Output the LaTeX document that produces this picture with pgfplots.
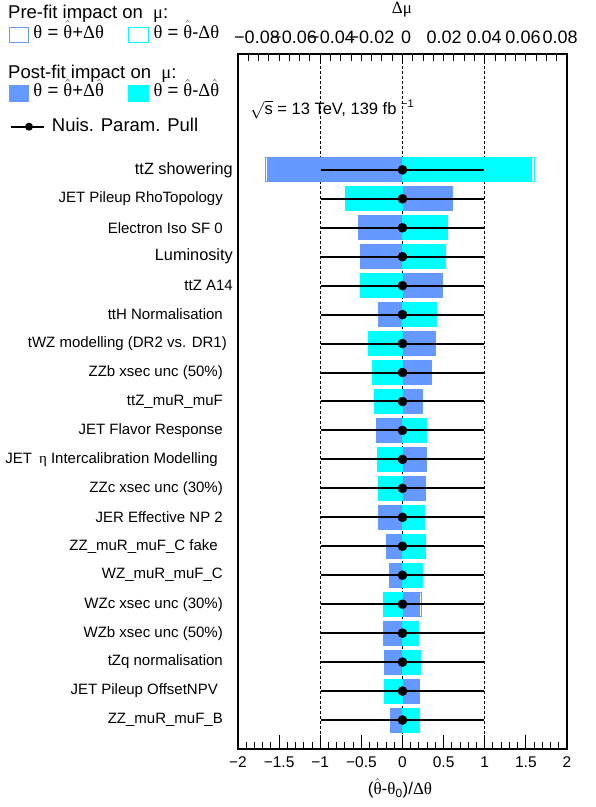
\documentclass[border=0pt]{standalone}
\usepackage{fontspec}
\setmainfont{Liberation Sans}
\newfontfamily\grk{Liberation Serif}
\usepackage{pgfplots}
\pgfplotsset{compat=1.18}
\usepackage{pgfplotstable}
\definecolor{upblue}{HTML}{6699FF}
\definecolor{dncyan}{HTML}{00FFFF}
\newcommand\fs[1]{\fontsize{#1bp}{#1bp}\selectfont}
\newcommand\gT{{\grk θ}}
\newcommand\gTh{$\hat{\mbox{\grk θ}}$}
\newcommand\gD{{\grk Δ}}
\newcommand\gM{{\grk μ}}

% y  postUp(blue)  postDown(cyan)  preUp  preDown
\pgfplotstableread{
y   postup  postdn  preup   predn
20  -1.640  1.567   -1.670  1.610
19   0.602 -0.687    0.602 -0.687
18  -0.541  0.529   -0.541  0.550
17  -0.505  0.505   -0.505  0.525
16   0.480 -0.505    0.480 -0.505
15  -0.286  0.408   -0.286  0.408
14   0.395 -0.408    0.395 -0.408
13   0.347 -0.359    0.347 -0.359
12   0.225 -0.335    0.249 -0.335
11  -0.322  0.286   -0.322  0.286
10   0.286 -0.298    0.286 -0.298
9    0.274 -0.286    0.274 -0.286
8   -0.286  0.262   -0.286  0.262
7   -0.189  0.274   -0.189  0.274
6   -0.164  0.237   -0.164  0.237
5    0.200 -0.237    0.225 -0.237
4   -0.225  0.189   -0.225  0.189
3   -0.213  0.213   -0.213  0.213
2    0.200 -0.213    0.200 -0.213
1   -0.140  0.200   -0.140  0.200
}\impacts

\pgfplotstableread{
y  pull  perr
20 0 0.995
19 0 0.995
18 0 0.995
17 0 0.995
16 0 0.995
15 0 0.995
14 0 0.995
13 0 0.995
12 0 0.995
11 0 0.995
10 0 0.995
9  0 0.995
8  0 0.995
7  0 0.995
6  0 0.995
5  0 0.995
4  0 0.995
3  0 0.995
2  0 0.995
1  0 0.995
}\pulls

\begin{document}
\begin{tikzpicture}[x=1bp,y=1bp]
\useasboundingbox (0,0) rectangle (596,807);
\begin{axis}[
  at={(238bp,58bp)}, anchor=south west,
  scale only axis, width=329bp, height=695bp,
  xmin=-2, xmax=2, ymin=0, ymax=24,
  axis line style={line width=1.2bp},
  xtick={-2,-1.5,...,2},
  xticklabels={−2,−1.5,−1,−0.5,0,0.5,1,1.5,2},
  xtick pos=bottom,
  minor x tick num=4,
  major tick length=14bp, minor tick length=7bp,
  tick style={line width=1bp, black},
  xticklabel style={font=\fs{15.5}, anchor=base, inner sep=0pt, yshift=-18.3bp},
  ytick={1,...,20},
  yticklabels={
    ZZ\_muR\_muF\_B,
    JET Pileup OffsetNPV\kern5bp,
    tZq normalisation,
    WZb xsec unc (50\%),
    WZc xsec unc (30\%),
    WZ\_muR\_muF\_C,
    ZZ\_muR\_muF\_C fake\kern5bp,
    JER Effective NP 2,
    ZZc xsec unc (30\%),
    JET\kern7bp{\grk η} Intercalibration Modelling\kern5bp,
    JET Flavor Response,
    ttZ\_muR\_muF,
    ZZb xsec unc (50\%),
    tWZ modelling (DR2 vs. DR1)\kern-4bp,
    ttH Normalisation,
    ttZ A14\kern-10bp,
    {\fs{16.3}Luminosity}\kern-10bp,
    Electron Iso SF 0,
    JET Pileup RhoTopology,
    {\fs{16.3}ttZ showering}\kern-10bp},
  ytick style={draw=none},
  yticklabel style={font=\fs{15}, anchor=east, inner sep=0pt, xshift=-15bp},
  clip=false,
]
% reference lines
\addplot[black, line width=1bp, dash pattern=on 3bp off 2bp] coordinates {(-1,0) (-1,24)};
\addplot[black, line width=1bp, dash pattern=on 3bp off 2bp] coordinates {(0,0) (0,24)};
\addplot[black, line width=1bp, dash pattern=on 3bp off 2bp] coordinates {(1,0) (1,24)};
% pre-fit impacts (outlines)
\addplot[xbar, bar shift=0pt, bar width=24bp, draw=upblue, fill=white, line width=1bp] table[x=preup, y=y] {\impacts};
\addplot[xbar, bar shift=0pt, bar width=24bp, draw=dncyan, fill=white, line width=1bp] table[x=predn, y=y] {\impacts};
% post-fit impacts (filled)
\addplot[xbar, bar shift=0pt, bar width=24bp, draw=upblue, fill=upblue, line width=0.8bp] table[x=postup, y=y] {\impacts};
\addplot[xbar, bar shift=0pt, bar width=24bp, draw=dncyan, fill=dncyan, line width=0.8bp] table[x=postdn, y=y] {\impacts};
% pulls
\addplot[black, line width=2bp, only marks, mark=*, mark size=4.5bp,
  mark options={line width=0.5bp},
  error bars/.cd, x dir=both, x explicit, error mark=none,
  error bar style={line width=2bp, black}]
  table[x=pull, y=y, x error=perr] {\pulls};
\end{axis}
% top axis (impact on mu)
\begin{axis}[
  at={(238bp,58bp)}, anchor=south west,
  scale only axis, width=329bp, height=695bp,
  xmin=-2, xmax=2, ymin=0, ymax=24,
  axis x line*=top, axis y line=none,
  axis line style={line width=1.2bp},
  xtick={-1.769,-1.319,-0.857,-0.377,0.043,0.505,0.991,1.465,1.915},
  xticklabels={−0.08,−0.06,−0.04,−0.02,0,0.02,0.04,0.06,0.08},
  major tick length=0pt,
  minor xtick={-1.875,-1.75,...,1.875},
  minor tick length=7bp,
  tick style={line width=1bp, black},
  xticklabel style={font=\fs{18}, anchor=base, inner sep=0pt, yshift=10bp},
]
\addplot[draw=none] coordinates {(0,1)};
\end{axis}
% titles
\node[anchor=base, inner sep=0pt, font=\fs{17}] at (402,793) {\gD\gM};
\node[anchor=base west, inner sep=0pt, font=\fs{16.5}] at (250,692) {$\sqrt{\mbox{s}}$ = 13 TeV, 139 fb \raisebox{7bp}{\fs{11}−1}};
\node[anchor=base, inner sep=0pt, font=\fs{17}] at (400,12.5) {(\gTh-\gT\textsubscript{0})/\gD\gT};
% legend
\begin{scope}[font=\fs{18.5}]
\node[anchor=base west, inner sep=0pt] at (8,788.5) {Pre-fit impact on \ \gM:};
\draw[upblue, line width=1bp] (9.8,764.8) rectangle (28.8,779.8);
\node[anchor=base west, inner sep=0pt] at (33.3,768.7) {\gT\ = \gTh+\gD\gT};
\draw[dncyan, line width=1bp] (128.8,764.8) rectangle (148.8,779.8);
\node[anchor=base west, inner sep=0pt] at (153.3,768.7) {\gT\ = \gTh-\gD\gT};
\node[anchor=base west, inner sep=0pt] at (8,728.7) {Post-fit impact on \ \gM:};
\fill[upblue] (9.3,705.3) rectangle (29.3,722);
\node[anchor=base west, inner sep=0pt] at (33.3,710.3) {\gT\ = \gTh+\gD\gTh};
\fill[dncyan] (128.3,705.3) rectangle (149.3,722);
\node[anchor=base west, inner sep=0pt] at (153.3,710.3) {\gT\ = \gTh-\gD\gTh};
\draw[black, line width=1.8bp] (11,680.3) -- (44,680.3);
\fill[black] (29,680.3) circle (4bp);
\node[anchor=base west, inner sep=0pt] at (51.7,675.3) {Nuis. Param. Pull};
\end{scope}
\end{tikzpicture}
\end{document}
